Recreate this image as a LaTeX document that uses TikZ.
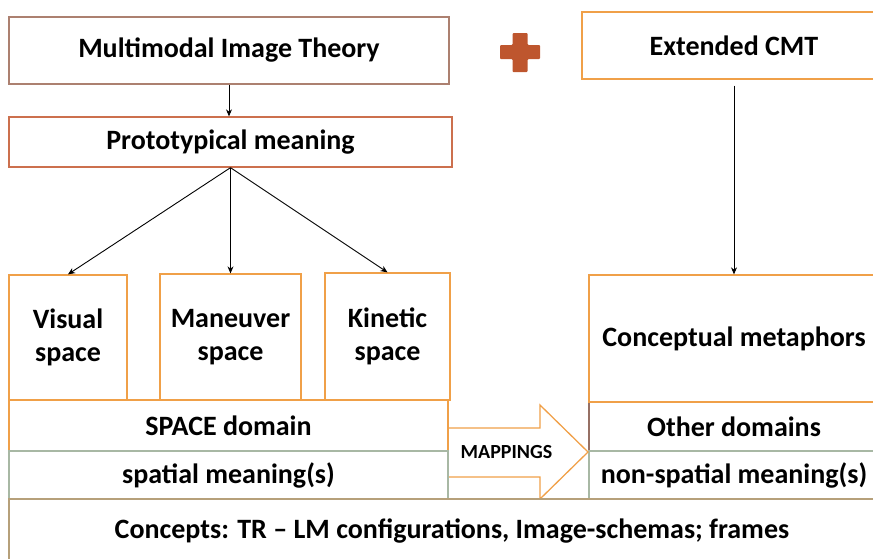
\documentclass[tikz,border=0pt]{standalone}
\usepackage{fontspec}
\setmainfont{Carlito}
\usepackage{tikz}
\definecolor{mitbrown}{RGB}{172,128,112}
\definecolor{protored}{RGB}{204,112,78}
\definecolor{boxorange}{RGB}{240,160,72}
\definecolor{plusred}{RGB}{190,86,46}
\definecolor{meangreen}{RGB}{168,184,164}
\definecolor{concepttan}{RGB}{182,160,122}
\definecolor{otherbrown}{RGB}{150,112,100}
\usetikzlibrary{arrows.meta}

\begin{document}
\begin{tikzpicture}[x=1pt, y=-1pt, font=\fontsize{28}{33}\selectfont\bfseries]
    \tikzstyle{frame} = [rectangle, draw, fill=white, line width=1.3pt,
                         inner sep=0pt, align=center]
    \tikzstyle{link} = [-{Stealth[length=7pt,width=6pt]}, line width=0.9pt, black]

    \useasboundingbox (0,0) rectangle (873,558);

    % Theory row
    \node[frame, draw=mitbrown, minimum width=440pt, minimum height=67pt] (mit) at (229,50.5) {Multimodal Image Theory};
    \node[frame, draw=protored, minimum width=443pt, minimum height=50pt] (proto) at (230.5,142) {Prototypical meaning};
    \node[frame, draw=boxorange, minimum width=304pt, minimum height=67pt] (cmt) at (734,45.5) {Extended CMT};

    % Plus sign
    \fill[plusred, rounded corners=1pt] (512.5,33) -- (527.5,33) -- (527.5,45) -- (540,45) -- (540,59)
        -- (527.5,59) -- (527.5,72) -- (512.5,72) -- (512.5,59) -- (500,59) -- (500,45) -- (512.5,45) -- cycle;

    % Spaces
    \node[frame, draw=boxorange, minimum width=118pt, minimum height=125pt] (visual) at (68,337.5) {Visual\\space};
    \node[frame, draw=boxorange, minimum width=141pt, minimum height=126pt] (maneuver) at (230.5,337) {Maneuver\\space};
    \node[frame, draw=boxorange, minimum width=125pt, minimum height=127pt] (kinetic) at (387.5,336.5) {Kinetic\\space};

    % Source domain
    \node[frame, draw=boxorange, minimum width=439pt, minimum height=51pt] (space) at (228.5,425.5) {SPACE domain};
    \node[frame, draw=meangreen, minimum width=439pt, minimum height=48pt] (spatial) at (228.5,475) {spatial meaning(s)};

    % Target domains
    \node[frame, draw=otherbrown, minimum width=290pt, minimum height=49pt] (other) at (734,426.5) {Other domains};
    \node[frame, draw=boxorange, minimum width=290pt, minimum height=127pt] (concmeta) at (734,338.5) {Conceptual metaphors};
    \node[frame, draw=meangreen, minimum width=290pt, minimum height=48pt] (nonspatial) at (734,475) {non-spatial meaning(s)};

    % Mappings arrow
    \draw[boxorange, line width=1.3pt, line join=miter] (449,428) -- (540,428) -- (540,405) -- (588,452)
        -- (540,499) -- (540,477) -- (449,477);
    \node[font=\fontsize{20}{24}\selectfont\bfseries] (map) at (506.5,452) {MAPPINGS};

    % Concepts
    \node[frame, draw=concepttan, minimum width=886pt, minimum height=64pt] (concepts) at (452,531)
        {Concepts: TR -- LM configurations, Image-schemas; frames};

    % Links
    \draw[link] (mit.south) -- (mit.south |- proto.north);
    \draw[link] (proto.south) -- (visual.north);
    \draw[link] (proto.south) -- (maneuver.north);
    \draw[link] (proto.south) -- (kinetic.north);
    \draw[link] ([yshift=-6pt]cmt.south) -- (concmeta.north);
\end{tikzpicture}
\end{document}
